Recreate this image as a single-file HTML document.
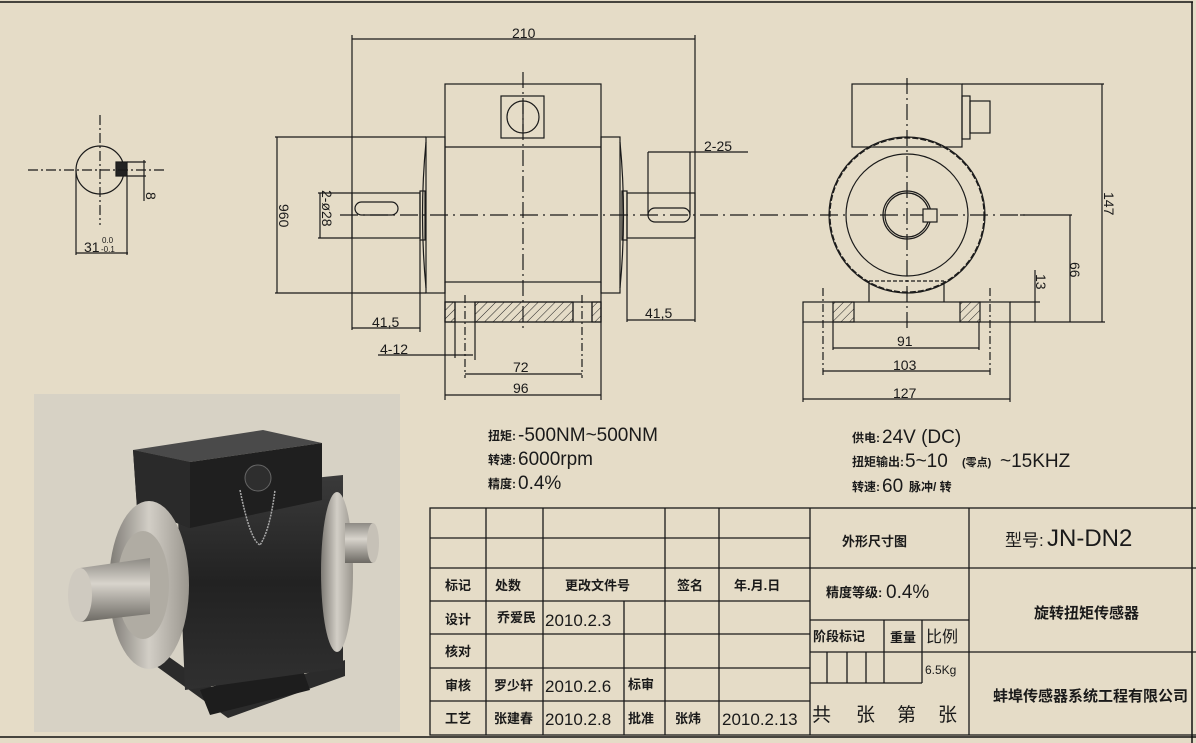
<!DOCTYPE html>
<html><head><meta charset="utf-8"><style>
html,body{margin:0;padding:0;background:#e5dcc7;}
svg{display:block;}
text{font-family:"Liberation Sans","Noto Sans CJK SC",sans-serif;fill:#1a1a1a;}
.cj{font-family:"Liberation Sans","Noto Sans CJK SC",sans-serif;font-weight:bold;}
</style></head><body>
<svg width="1196" height="743" viewBox="0 0 1196 743" xmlns="http://www.w3.org/2000/svg">
<defs>
<pattern id="h" width="6" height="6" patternUnits="userSpaceOnUse" patternTransform="rotate(45)">
<line x1="0" y1="0" x2="0" y2="6" stroke="#222" stroke-width="1"/></pattern>
<linearGradient id="met" x1="0" y1="0" x2="0" y2="1"><stop offset="0" stop-color="#8d8a84"/><stop offset="0.4" stop-color="#d8d4cc"/><stop offset="1" stop-color="#6c6963"/></linearGradient>
<linearGradient id="met2" x1="0" y1="0" x2="1" y2="0"><stop offset="0" stop-color="#7d7a74"/><stop offset="0.5" stop-color="#d2cec6"/><stop offset="1" stop-color="#9a968e"/></linearGradient>
<linearGradient id="blk" x1="0" y1="0" x2="0" y2="1"><stop offset="0" stop-color="#3a3a3a"/><stop offset="0.5" stop-color="#222"/><stop offset="1" stop-color="#303030"/></linearGradient>
</defs>
<rect width="1196" height="743" fill="#e5dcc7"/>
<g fill="none" stroke="#111" stroke-width="1.5">
<line x1="0" y1="2" x2="1193" y2="2"/><line x1="1192" y1="2" x2="1192" y2="743"/>
<line x1="0" y1="737" x2="1196" y2="737"/>
</g>
<g fill="none" stroke="#1a1a1a" stroke-width="1.2">
<circle cx="100" cy="170" r="24"/>
<rect x="116" y="162" width="11" height="14" fill="#222"/>
<line x1="28" y1="170" x2="165" y2="170" stroke-dasharray="10 3 2 3"/>
<line x1="100" y1="115" x2="100" y2="225" stroke-dasharray="10 3 2 3"/>
<line x1="76" y1="170" x2="76" y2="255"/><line x1="127" y1="176" x2="127" y2="255"/>
<line x1="76" y1="253" x2="128" y2="253"/>
<line x1="127" y1="162" x2="146" y2="162"/><line x1="127" y1="176" x2="146" y2="176"/>
<line x1="144" y1="160" x2="144" y2="201"/>
<line x1="352" y1="39" x2="695" y2="39"/>
<line x1="352" y1="35" x2="352" y2="330"/><line x1="695" y1="35" x2="695" y2="322"/>
<rect x="445" y="84" width="156" height="198"/>
<line x1="445" y1="147" x2="601" y2="147"/>
<rect x="501" y="96" width="43" height="42"/>
<circle cx="523" cy="117" r="16"/><line x1="523" y1="103" x2="523" y2="131"/>
<rect x="426" y="137" width="19" height="156"/><rect x="601" y="137" width="19" height="156"/>
<path d="M426 142 Q419 215 426 288"/><path d="M620 142 Q627 215 620 288"/>
<rect x="352" y="193" width="68" height="45"/><rect x="420" y="191" width="5" height="49"/>
<rect x="627" y="193" width="68" height="45"/><rect x="622" y="191" width="5" height="49"/>
<rect x="355" y="202" width="43" height="13" rx="6.5"/>
<rect x="648" y="208" width="42" height="14" rx="7"/>
<rect x="445" y="302" width="156" height="20"/>
<rect x="445" y="302" width="10" height="20" fill="url(#h)"/>
<rect x="475" y="302" width="98" height="20" fill="url(#h)"/>
<rect x="592" y="302" width="9" height="20" fill="url(#h)"/>
<line x1="445" y1="282" x2="445" y2="400"/><line x1="601" y1="282" x2="601" y2="400"/>
<line x1="455" y1="302" x2="455" y2="322"/><line x1="475" y1="302" x2="475" y2="360"/>
<line x1="573" y1="302" x2="573" y2="322"/><line x1="592" y1="302" x2="592" y2="322"/>
<line x1="465" y1="295" x2="465" y2="378" stroke-dasharray="8 3 2 3"/>
<line x1="582" y1="295" x2="582" y2="378" stroke-dasharray="8 3 2 3"/>
<line x1="523" y1="72" x2="523" y2="332" stroke-dasharray="16 4 2 4"/>
<line x1="340" y1="215" x2="1025" y2="215" stroke-dasharray="18 5 2 5"/>
<line x1="277" y1="137" x2="277" y2="293"/>
<line x1="275" y1="137" x2="426" y2="137"/><line x1="275" y1="293" x2="426" y2="293"/>
<line x1="320" y1="193" x2="320" y2="238"/><line x1="318" y1="193" x2="352" y2="193"/><line x1="318" y1="238" x2="352" y2="238"/>
<line x1="352" y1="328" x2="420" y2="328"/><line x1="420" y1="240" x2="420" y2="332"/>
<line x1="627" y1="320" x2="695" y2="320"/><line x1="627" y1="240" x2="627" y2="322"/>
<line x1="648" y1="152" x2="648" y2="215"/><line x1="690" y1="152" x2="690" y2="215"/>
<line x1="648" y1="152" x2="748" y2="152"/>
<line x1="378" y1="355" x2="473" y2="355"/><line x1="455" y1="322" x2="455" y2="358"/>
<line x1="465" y1="374" x2="582" y2="374"/>
<line x1="445" y1="395" x2="601" y2="395"/>
<rect x="852" y="84" width="110" height="63"/>
<rect x="962" y="96" width="8" height="43"/><rect x="970" y="101" width="20" height="32"/>
<circle cx="907" cy="215" r="78"/>
<circle cx="907" cy="215" r="77" stroke-dasharray="6 2"/>
<circle cx="907" cy="215" r="61"/>
<circle cx="907" cy="215" r="24"/><circle cx="907" cy="215" r="22"/>
<rect x="923" y="209" width="14" height="13" fill="#e5dcc7"/>
<line x1="869" y1="281" x2="944" y2="281" stroke-dasharray="4 2"/>
<path d="M869 281 V302 M944 281 V302"/>
<rect x="803" y="302" width="207" height="20"/>
<rect x="833" y="302" width="21" height="20" fill="url(#h)"/>
<rect x="960" y="302" width="20" height="20" fill="url(#h)"/>
<line x1="907" y1="78" x2="907" y2="330" stroke-dasharray="16 4 2 4"/>
<line x1="823" y1="288" x2="823" y2="375" stroke-dasharray="8 3 2 3"/>
<line x1="990" y1="288" x2="990" y2="375" stroke-dasharray="8 3 2 3"/>
<line x1="833" y1="322" x2="833" y2="350"/><line x1="979" y1="322" x2="979" y2="350"/>
<line x1="833" y1="348" x2="979" y2="348"/>
<line x1="823" y1="371" x2="990" y2="371"/>
<line x1="803" y1="322" x2="803" y2="402"/><line x1="1010" y1="322" x2="1010" y2="402"/>
<line x1="803" y1="399" x2="1010" y2="399"/>
<line x1="1010" y1="302" x2="1040" y2="302"/><line x1="1010" y1="322" x2="1105" y2="322"/>
<line x1="1035" y1="270" x2="1035" y2="322"/>
<line x1="1020" y1="215" x2="1072" y2="215"/><line x1="1070" y1="215" x2="1070" y2="322"/>
<line x1="962" y1="84" x2="1104" y2="84"/><line x1="1102" y1="84" x2="1102" y2="322"/>
</g>
<g font-size="14">
<text x="512" y="38">210</text>
<text x="704" y="151">2-25</text>
<text x="372" y="327">41,5</text>
<text x="645" y="318">41,5</text>
<text x="380" y="354">4-12</text>
<text x="513" y="372">72</text>
<text x="513" y="393">96</text>
<text x="897" y="346">91</text>
<text x="893" y="370">103</text>
<text x="893" y="398">127</text>
<text transform="translate(1104,192) rotate(90)">147</text>
<text transform="translate(1070,262) rotate(90)">66</text>
<text transform="translate(1036,274) rotate(90)">13</text>
<text transform="translate(279,204) rotate(90)">960</text>
<text transform="translate(322,190) rotate(90)">2-ø28</text>
<text transform="translate(146,192) rotate(90)">8</text>
<text x="84" y="252">31</text>
<text x="102" y="243" font-size="8">0.0</text>
<text x="101" y="252" font-size="8">-0.1</text>
</g>
<g>
<text x="488" y="440" class="cj" font-size="12">扭矩:</text><text x="518" y="441" font-size="19">-500NM~500NM</text>
<text x="488" y="464" class="cj" font-size="12">转速:</text><text x="518" y="465" font-size="19">6000rpm</text>
<text x="488" y="488" class="cj" font-size="12">精度:</text><text x="518" y="489" font-size="19">0.4%</text>
<text x="852" y="442" class="cj" font-size="12">供电:</text><text x="882" y="443" font-size="19">24V (DC)</text>
<text x="852" y="466" class="cj" font-size="12">扭矩输出:</text><text x="905" y="467" font-size="19">5~10</text><text x="962" y="466" class="cj" font-size="11">(零点)</text><text x="1000" y="467" font-size="19">~15KHZ</text>
<text x="852" y="491" class="cj" font-size="12">转速:</text><text x="882" y="492" font-size="19">60</text><text x="909" y="491" class="cj" font-size="12">脉冲/ 转</text>
</g>
<g fill="none" stroke="#1a1a1a" stroke-width="1.3">
<rect x="430" y="508" width="770" height="227"/>
<line x1="430" y1="538" x2="810" y2="538"/>
<line x1="430" y1="568" x2="1200" y2="568"/>
<line x1="430" y1="601" x2="810" y2="601"/>
<line x1="430" y1="634" x2="810" y2="634"/>
<line x1="430" y1="668" x2="810" y2="668"/>
<line x1="430" y1="701" x2="810" y2="701"/>
<line x1="486" y1="508" x2="486" y2="735"/>
<line x1="543" y1="508" x2="543" y2="735"/>
<line x1="624" y1="601" x2="624" y2="735"/>
<line x1="665" y1="508" x2="665" y2="735"/>
<line x1="719" y1="508" x2="719" y2="735"/>
<line x1="810" y1="508" x2="810" y2="735"/>
<line x1="969" y1="508" x2="969" y2="735"/>
<line x1="810" y1="620" x2="969" y2="620"/>
<line x1="810" y1="652" x2="1200" y2="652"/>
<line x1="810" y1="683" x2="922" y2="683"/>
<line x1="884" y1="620" x2="884" y2="683"/>
<line x1="922" y1="620" x2="922" y2="683"/>
<line x1="827" y1="652" x2="827" y2="683"/>
<line x1="847" y1="652" x2="847" y2="683"/>
<line x1="866" y1="652" x2="866" y2="683"/>
</g>
<g class="cj" font-size="13">
<text x="445" y="590">标记</text><text x="495" y="590">处数</text><text x="565" y="590">更改文件号</text><text x="677" y="590">签名</text><text x="734" y="590">年.月.日</text>
<text x="445" y="624">设计</text><text x="497" y="622">乔爱民</text>
<text x="445" y="656">核对</text>
<text x="445" y="690">审核</text><text x="494" y="690">罗少轩</text><text x="628" y="689">标审</text>
<text x="445" y="723">工艺</text><text x="494" y="723">张建春</text><text x="628" y="723">批准</text><text x="675" y="723">张炜</text>
<text x="842" y="546">外形尺寸图</text>
<text x="826" y="597">精度等级:</text>
<text x="1034" y="618" font-size="15">旋转扭矩传感器</text>
<text x="813" y="641">阶段标记</text><text x="890" y="642">重量</text>
<text x="993" y="701" font-size="15">蚌埠传感器系统工程有限公司</text>
</g>
<g font-size="17">
<text x="545" y="626">2010.2.3</text>
<text x="545" y="692">2010.2.6</text>
<text x="545" y="725">2010.2.8</text>
<text x="722" y="725">2010.2.13</text>
<text x="886" y="598" font-size="19">0.4%</text>
<text x="1047" y="546" font-size="24">JN-DN2</text>
<text x="925" y="674" font-size="12">6.5Kg</text>
</g>
<text x="1005" y="546" font-size="17">型号:</text>
<text x="926" y="642" font-size="16">比例</text>
<text x="812" y="721" font-size="19" font-family="Liberation Sans,Noto Serif CJK SC,serif">共</text>
<text x="856" y="721" font-size="19" font-family="Liberation Sans,Noto Serif CJK SC,serif">张</text>
<text x="897" y="721" font-size="19" font-family="Liberation Sans,Noto Serif CJK SC,serif">第</text>
<text x="938" y="721" font-size="19" font-family="Liberation Sans,Noto Serif CJK SC,serif">张</text>
<!-- photo -->
<rect x="34" y="394" width="366" height="338" fill="#d7d2c5"/>
<g>
<polygon points="120,640 228,718 345,676 345,660 230,700 128,628" fill="#2b2b2b"/>
<polygon points="200,690 300,662 310,690 210,715" fill="#1d1d1d"/>
<path d="M177 492 L343 475 L343 668 L185 690 Z" fill="url(#blk)"/>
<ellipse cx="337" cy="572" rx="16" ry="80" fill="url(#met2)"/>
<rect x="345" y="523" width="28" height="40" fill="url(#met)"/>
<ellipse cx="373" cy="543" rx="6" ry="20" fill="#c6c1b7"/>
<polygon points="133,450 263,430 322,443 190,462" fill="#4a4a4a"/>
<polygon points="133,450 190,462 322,443 322,500 190,528 137,508" fill="#1f1f1f"/>
<polygon points="133,450 190,462 190,528 137,508" fill="#2a2a2a"/>
<circle cx="258" cy="478" r="13" fill="#2e2e2e" stroke="#666"/>
<path d="M240 490 Q250 540 260 545 Q270 530 275 490" fill="none" stroke="#aaa" stroke-width="1.5" stroke-dasharray="2 1"/>
<ellipse cx="149" cy="585" rx="40" ry="84" fill="url(#met2)"/>
<ellipse cx="143" cy="585" rx="26" ry="54" fill="#b0aca3"/>
<polygon points="80,568 150,558 150,614 80,622" fill="url(#met)"/>
<ellipse cx="80" cy="595" rx="12" ry="27" fill="#cfcac0"/>
</g>
</svg>
</body></html>
